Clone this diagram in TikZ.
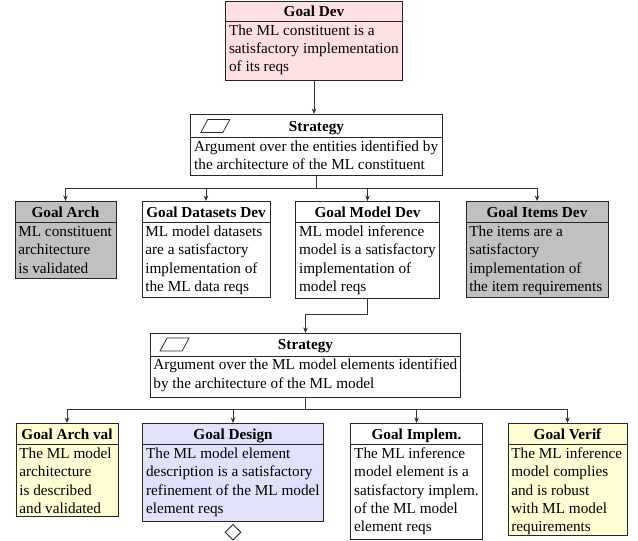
\documentclass[tikz,border=0pt]{standalone}
\usepackage{fontspec}
\setmainfont{Liberation Serif}
\usetikzlibrary{arrows.meta,shapes.geometric}
\definecolor{devpink}{RGB}{255,224,226}
\definecolor{archgray}{RGB}{192,192,192}
\definecolor{valyellow}{RGB}{255,253,212}
\definecolor{designblue}{RGB}{225,225,252}
\newcommand{\bodytxt}[3]{\parbox[c][#1][t]{#2}{\raggedright\rule{0pt}{9pt}#3}}
\begin{document}
\begin{tikzpicture}[x=0.656pt,y=-0.656pt,
  box/.style={draw=black!85, line width=0.6pt, inner xsep=2.2pt, inner ysep=0pt, outer sep=0pt, anchor=north},
  hd/.style={box, font=\bfseries, align=center, minimum height=14.4pt, text height=6.8pt, text depth=0pt},
  bd/.style={box},
  conn/.style={draw=black!80, line width=0.5pt, -{Stealth[length=3.6pt,width=3pt]}},
  icon/.style={draw=black!85, line width=0.5pt}
]
\fill[white] (0,0) rectangle (638,541);
\useasboundingbox (0,0) rectangle (638,541);

% Goal Dev
\node[hd, fill=devpink, minimum width=115.9pt, minimum height=13.5pt] (gdh) at (314,1) {Goal Dev};
\node[bd, fill=devpink] (gdb) at (gdh.south) {\bodytxt{38.7pt}{111.5pt}{The ML constituent is a\\ satisfactory implementation\\ of its reqs}};

% Strategy 1
\node[hd, minimum width=164.9pt, minimum height=15.7pt] (s1h) at (316.5,114) {Strategy};
\node[bd] (s1b) at (s1h.south) {\bodytxt{24.9pt}{160.5pt}{Argument over the entities identified by\\ the architecture of the ML constituent}};
\draw[icon] ([shift={(17,5.5)}]s1h.north west) -- ++(22,0) -- ++(-7,13) -- ++(-22,0) -- cycle;

% Row 1
\node[hd, fill=archgray, minimum width=66.3pt] (gah) at (65.5,201) {Goal Arch};
\node[bd, fill=archgray] (gab) at (gah.south) {\bodytxt{36.1pt}{61.9pt}{ML constituent\\ architecture\\ is validated}};

\node[hd, minimum width=84pt] (gdsh) at (206,201) {Goal Datasets Dev};
\node[bd] (gdsb) at (gdsh.south) {\bodytxt{49.2pt}{79.6pt}{ML model datasets\\ are a satisfactory\\ implementation of\\ the ML data reqs}};

\node[hd, minimum width=94.2pt] (gmdh) at (367.5,201) {Goal Model Dev};
\node[bd] (gmdb) at (gmdh.south) {\bodytxt{49.4pt}{89.8pt}{ML model inference\\ model is a satisfactory\\ implementation of\\ model reqs}};

\node[hd, fill=archgray, minimum width=93.2pt] (gidh) at (537,201) {Goal Items Dev};
\node[bd, fill=archgray] (gidb) at (gidh.south) {\bodytxt{48.6pt}{88.8pt}{The items are a\\ satisfactory\\ implementation of\\ the item requirements}};

% Strategy 2
\node[hd, minimum width=203.9pt, minimum height=15.1pt] (s2h) at (305.5,333) {Strategy};
\node[bd] (s2b) at (s2h.south) {\bodytxt{26.9pt}{199.5pt}{Argument over the ML model elements identified\\ by the architecture of the ML model}};
\draw[icon] ([shift={(17,5)}]s2h.north west) -- ++(22,0) -- ++(-7,13) -- ++(-22,0) -- cycle;

% Row 2
\node[hd, fill=valyellow, minimum width=66.9pt] (gavh) at (67,423) {Goal Arch val};
\node[bd, fill=valyellow] (gavb) at (gavh.south) {\bodytxt{47.2pt}{62.5pt}{The ML model\\ architecture\\ is described\\ and validated}};

\node[hd, fill=designblue, minimum width=118.4pt] (gdeh) at (233,423) {Goal Design};
\node[bd, fill=designblue] (gdeb) at (gdeh.south) {\bodytxt{50.5pt}{114pt}{The ML model element\\ description is a satisfactory\\ refinement of the ML model\\ element reqs}};
\node[draw=black!85, line width=0.6pt, diamond, inner sep=0pt, minimum width=10.5pt, minimum height=10.5pt, anchor=north] (und) at ([yshift=-1.2pt]gdeb.south) {};

\node[hd, minimum width=86.1pt] (gimh) at (416.5,423) {Goal Implem.};
\node[bd] (gimb) at (gimh.south) {\bodytxt{62.3pt}{81.7pt}{The ML inference\\ model element is a\\ satisfactory implem.\\ of the ML model\\ element reqs}};

\node[hd, fill=valyellow, minimum width=78.1pt] (gveh) at (567.5,423) {Goal Verif};
\node[bd, fill=valyellow] (gveb) at (gveh.south) {\bodytxt{59.5pt}{73.7pt}{The ML inference\\ model complies\\ and is robust\\ with ML model\\ requirements}};

% Connectors
\draw[conn] (gdb.south) -- (gdb.south |- s1h.north);
\foreach \c in {gah,gdsh,gmdh,gidh}
  \draw[conn] (s1b.south) -- ++(0,12) -| (\c.north);
\draw[conn] (gmdb.south) -- ++(0,16) -| (s2h.north);
\foreach \c in {gavh,gdeh,gimh,gveh}
  \draw[conn] (s2b.south) -- ++(0,12) -| (\c.north);
\end{tikzpicture}
\end{document}
